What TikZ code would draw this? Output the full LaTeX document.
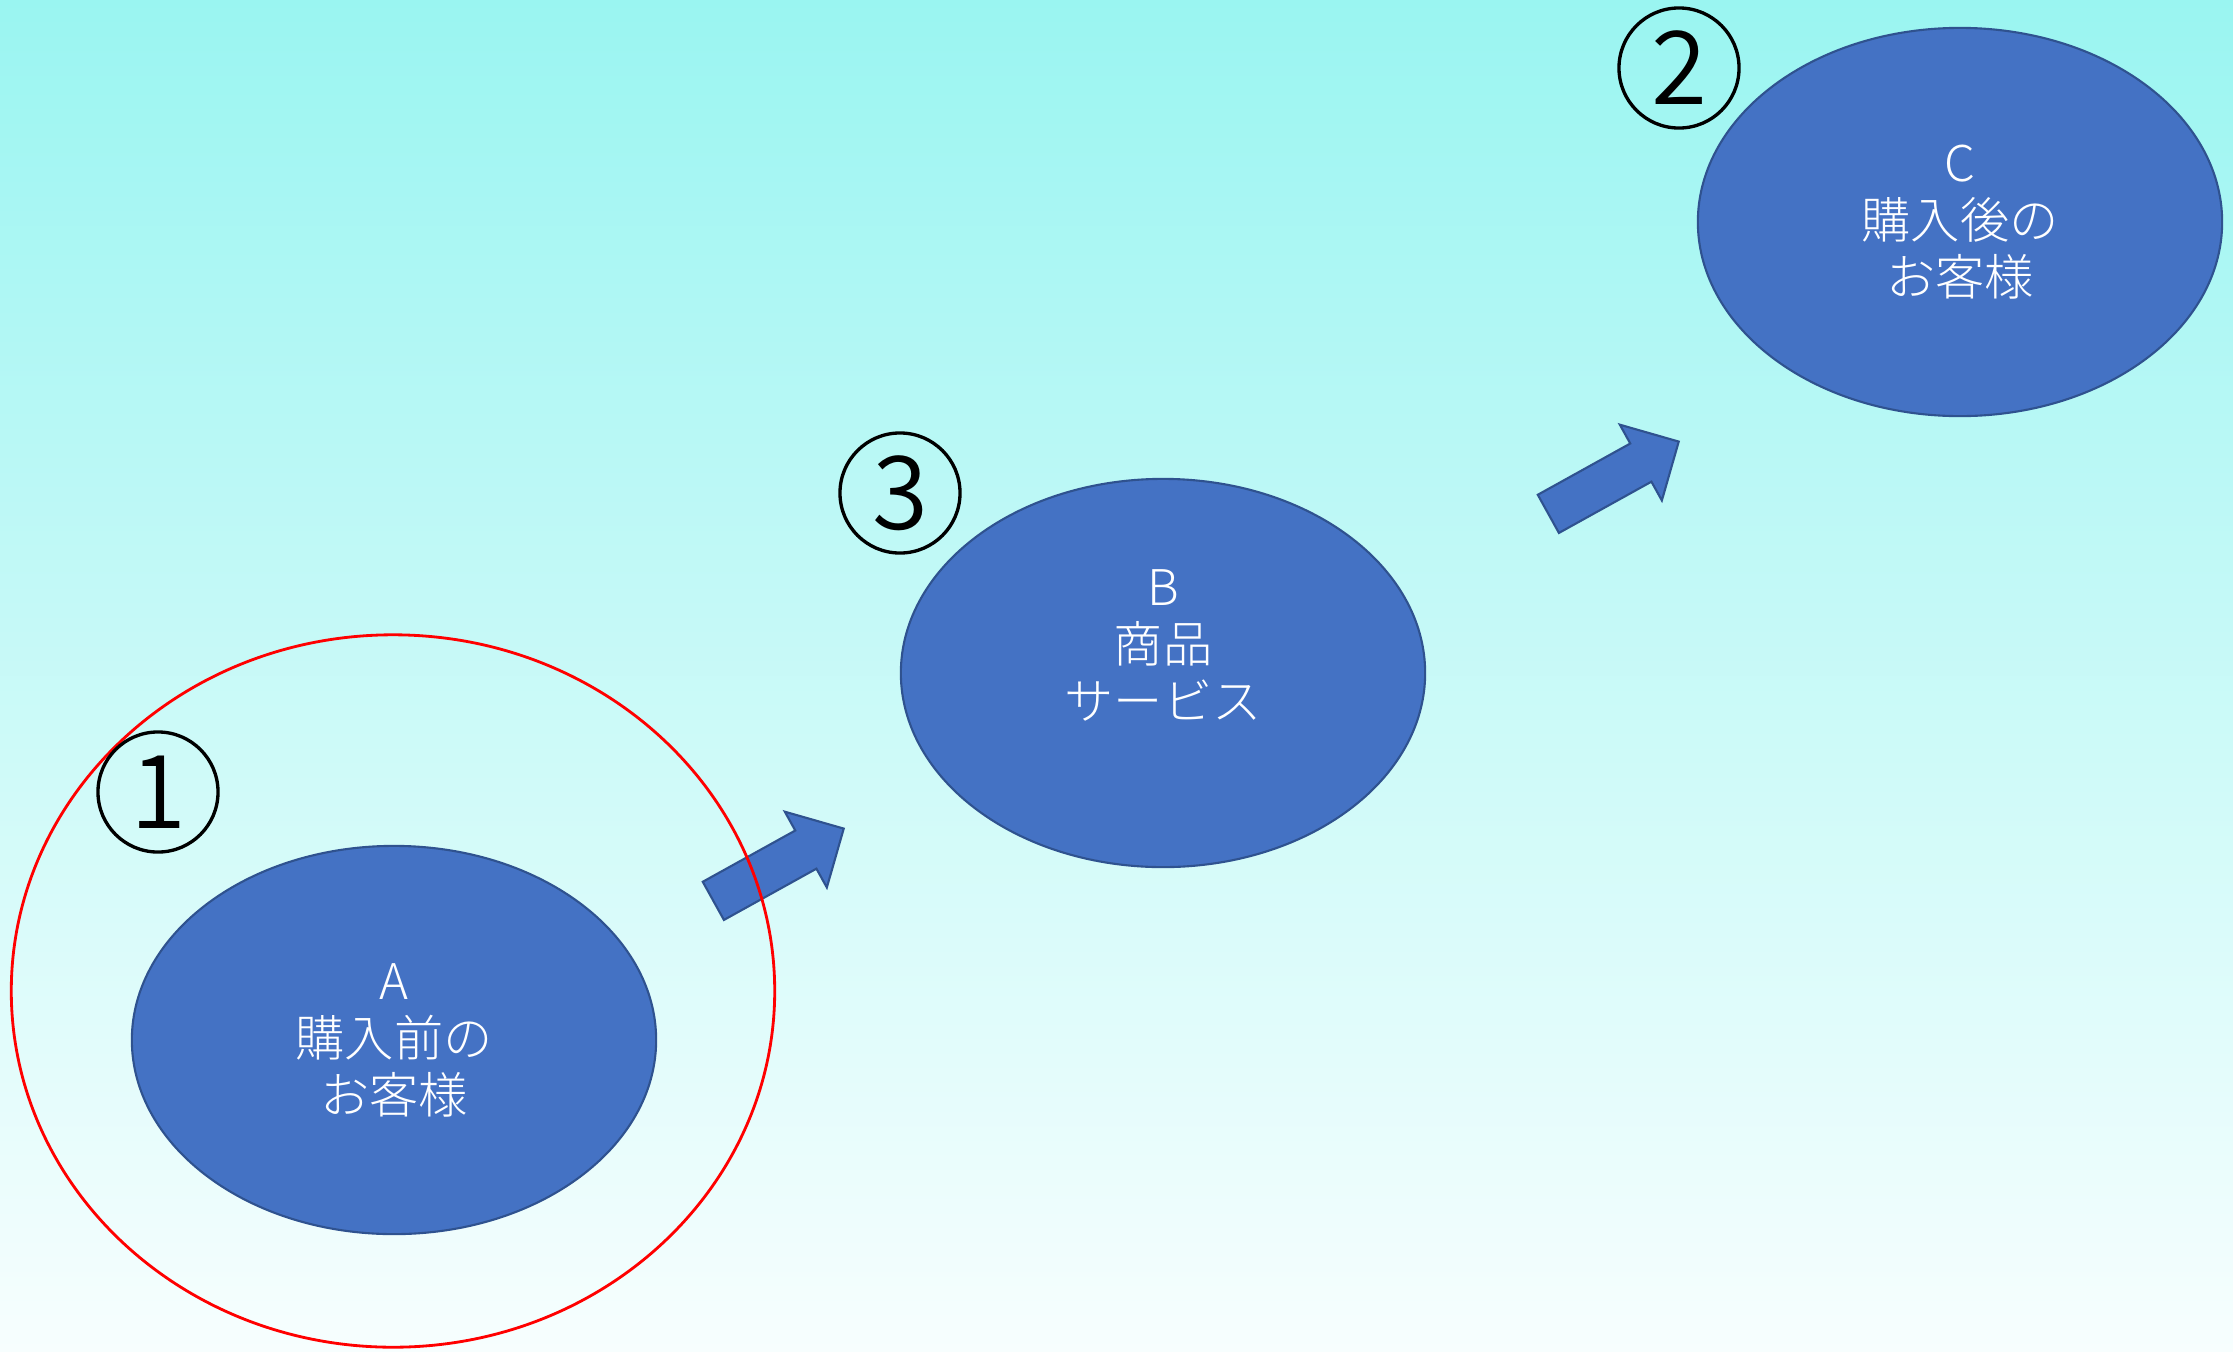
\documentclass[tikz,border=0pt]{standalone}
\usepackage{fontspec}
\newfontfamily\jpfont{Noto Sans CJK JP Light}
\newfontfamily\numfont{Noto Sans CJK JP DemiLight}
\usetikzlibrary{shapes.geometric,shapes.arrows}
\definecolor{ovalblue}{HTML}{4472C4}
\definecolor{ovalline}{HTML}{2F528F}
\definecolor{skytop}{HTML}{9AF5F1}
\definecolor{skybot}{HTML}{F7FEFE}

\begin{document}
\begin{tikzpicture}[x=0.01cm,y=-0.01cm]
	\tikzstyle{stage}=[ellipse,fill=ovalblue,draw=ovalline,line width=0.6pt,minimum width=5.24cm,minimum height=3.88cm,inner sep=0,text=white,align=center,font=\jpfont\fontsize{14}{16.2}\selectfont]
	\tikzstyle{num}=[circle,draw=black,line width=0.95pt,minimum size=1.2cm,inner sep=0,font=\numfont\fontsize{29}{29}\selectfont]
	\tikzstyle{fwd}=[single arrow,fill=ovalblue,draw=ovalline,line width=0.6pt,inner xsep=0,inner ysep=0.2075cm,single arrow head extend=0.215cm,minimum height=1.49cm,rotate=29]

	% backdrop
	\shade[top color=skytop,bottom color=skybot] (0,0) rectangle (2233,1351);
	\useasboundingbox (0,0) rectangle (2233,1351);

	\begin{scope}
	\node[stage] (A) at (394,1040) {A\\購入前の\\お客様};
	\node[stage] (B) at (1163,673)  {B\\商品\\サービス\\\mbox{}};
	\node[stage] (C) at (1960,222)  {C\\購入後の\\お客様};
	\end{scope}

	\node[fwd] (AB) at (769,870) {};
	\node[fwd] (BC) at (1604,483) {};

	% focus ring round A
	\node[ellipse,draw=red,line width=0.8pt,minimum width=7.63cm,minimum height=7.12cm,inner sep=0] (focus) at (393,991) {};

	\node[num] (n1) at (158,792)  {1};
	\node[num] (n2) at (1679,68)  {2};
	\node[num] (n3) at (900,493)  {3};
\end{tikzpicture}
\end{document}
